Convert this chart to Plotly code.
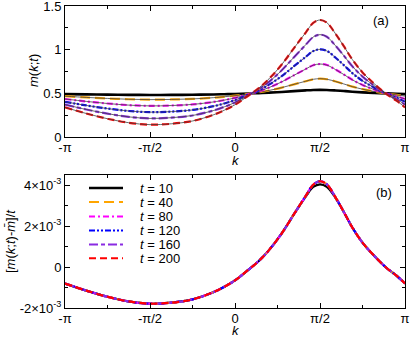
import numpy as np
import plotly.graph_objects as go

# ---- data ----
k_over_pi = [-1.0, -0.875, -0.75, -0.625, -0.5, -0.375, -0.25, -0.125, -0.0625, 0.0,
             0.08, 0.14, 0.2, 0.275, 0.347, 0.416, 0.46, 0.5, 0.54, 0.592,
             0.64, 0.69, 0.75, 0.818, 0.89, 0.95, 1.0]
# [m(k;t) - mbar]/t in units of 1e-3 (panel b)
rate_t10 = [-0.80, -1.15, -1.45, -1.68, -1.79, -1.74, -1.58, -1.22, -0.96, -0.65,
            -0.12, 0.30, 0.83, 1.65, 2.59, 3.45, 3.92, 4.05, 3.93, 3.38,
            2.70, 1.94, 1.20, 0.56, -0.03, -0.42, -0.80]
rate_long = [-0.80, -1.15, -1.45, -1.68, -1.79, -1.74, -1.58, -1.22, -0.96, -0.65,
             -0.12, 0.30, 0.83, 1.65, 2.59, 3.48, 4.03, 4.20, 4.05, 3.40,
             2.70, 1.94, 1.20, 0.56, -0.03, -0.42, -0.80]
t_values = [10, 40, 80, 120, 160, 200]
m_bar = 0.5
colors = ["#000000", "#FFA500", "#FF00FF", "#0000FF", "#8A2BE2", "#FF0000"]
dashes = ["solid", "10px,5px", "6px,3px,2px,3px", "6px,2px,2px,2px,2px,2px",
          "9px,3px,4px,3px", "7px,4px"]

x_ticks = [-np.pi, -np.pi / 2, 0, np.pi / 2, np.pi]
x_ticktext = ["-π", "-π/2", "0", "π/2", "π"]
ya_ticks = [0, 0.5, 1, 1.5]
ya_ticktext = ["0", "0.5", "1", "1.5"]
yb_ticks = [-2e-3, 0, 2e-3, 4e-3]
yb_ticktext = ["-2×10<sup>-3</sup>", "0", "2×10<sup>-3</sup>", "4×10<sup>-3</sup>"]

k = np.array(k_over_pi) * np.pi

fig = go.Figure()
for i, t in enumerate(t_values):
    rate = np.array(rate_t10 if t == 10 else rate_long) * 1e-3
    m = m_bar + t * rate
    w = 2.6 if t == 10 else 2.2
    fig.add_trace(go.Scatter(x=k, y=m, mode="lines", line=dict(color=colors[i], width=w,
                  dash=dashes[i], shape="spline"), xaxis="x", yaxis="y", showlegend=False))
    if t != 10:
        fig.add_trace(go.Scatter(x=k, y=m, mode="lines", line=dict(color="#404040", width=0.8,
                      shape="spline"), xaxis="x", yaxis="y", showlegend=False))
for i, t in enumerate(t_values):
    rate = np.array(rate_t10 if t == 10 else rate_long) * 1e-3
    fig.add_trace(go.Scatter(x=k, y=rate, mode="lines", name=f"t = {t}",
                  line=dict(color=colors[i], width=2.2, dash=dashes[i], shape="spline"),
                  xaxis="x2", yaxis="y2", showlegend=False))

ax_common = dict(showline=True, linecolor="black", linewidth=1, mirror="allticks",
                 ticks="inside", ticklen=5, tickcolor="black", showgrid=False,
                 zeroline=False, tickfont=dict(size=13, color="black"),
                 ticklabeloverflow="allow", automargin=False)
eps = 1e-9
xcommon = dict(ax_common, range=[-np.pi - eps, np.pi + eps], tickmode="array",
               tickvals=x_ticks, ticktext=x_ticktext, ticklabelstandoff=-2,
               minor=dict(tickvals=[-3 * np.pi / 4, -np.pi / 4, np.pi / 4, 3 * np.pi / 4],
                          ticklen=3, ticks="inside", tickcolor="black"))

fig.update_layout(
    width=411, height=338,
    margin=dict(l=65, r=6, t=6, b=30, autoexpand=False),
    paper_bgcolor="white", plot_bgcolor="white",
    font=dict(family="Liberation Sans, Arial, sans-serif", size=13, color="black"),
    xaxis=dict(xcommon, anchor="y", domain=[0, 1]),
    yaxis=dict(ax_common, domain=[0.566, 1], range=[0, 1.5 + 1e-9], tickmode="array",
               tickvals=ya_ticks, ticktext=ya_ticktext,
               minor=dict(tickvals=[0.25, 0.75, 1.25], ticklen=3, ticks="inside",
                          tickcolor="black"), anchor="x"),
    xaxis2=dict(xcommon, anchor="y2", domain=[0, 1]),
    yaxis2=dict(ax_common, domain=[0, 0.44], range=[-2e-3 - 1e-12, 4.5e-3], tickmode="array",
                tickvals=yb_ticks, ticktext=yb_ticktext,
                minor=dict(tickvals=[-1e-3, 1e-3, 3e-3], ticklen=3, ticks="inside",
                           tickcolor="black"), anchor="x2"),
)

def px(xp):
    return (xp - 65) / 340

def py(yp):
    return (308 - yp) / 302

ann = [
    dict(text="<i>m</i>(<i>k</i>;<i>t</i>)", x=px(33), y=py(71), textangle=-90),
    dict(text="[<i>m</i>(<i>k</i>;<i>t</i>)-<i>m̄</i>]/<i>t</i>", x=px(10), y=py(241), textangle=-90),
    dict(text="<i>k</i>", x=px(236), y=py(160.5)),
    dict(text="<i>k</i>", x=px(236), y=py(330.5)),
    dict(text="(a)", x=px(381), y=py(20)),
    dict(text="(b)", x=px(384), y=py(192)),
]
for a in ann:
    fig.add_annotation(xref="paper", yref="paper", showarrow=False,
                       xanchor="center", yanchor="middle", font=dict(size=13, color="black"), **a)

# legend drawn in the lower panel
leg_y = [188, 202, 216.5, 230.5, 244.5, 258.3]
for i, t in enumerate(t_values):
    yy = py(leg_y[i])
    fig.add_shape(type="line", xref="paper", yref="paper", x0=px(89), x1=px(123), y0=yy, y1=yy,
                  line=dict(color=colors[i], width=2.4 if i == 0 else 2, dash=dashes[i]))
    fig.add_annotation(xref="paper", yref="paper", x=px(138), y=yy, xanchor="left",
                       yanchor="middle", showarrow=False, text=f"<i>t</i> = {t}",
                       font=dict(size=13, color="black"))

fig.write_html("out.html", config={"displayModeBar": False},
               post_script="document.body.style.margin='0px';document.body.style.overflow='hidden';")
